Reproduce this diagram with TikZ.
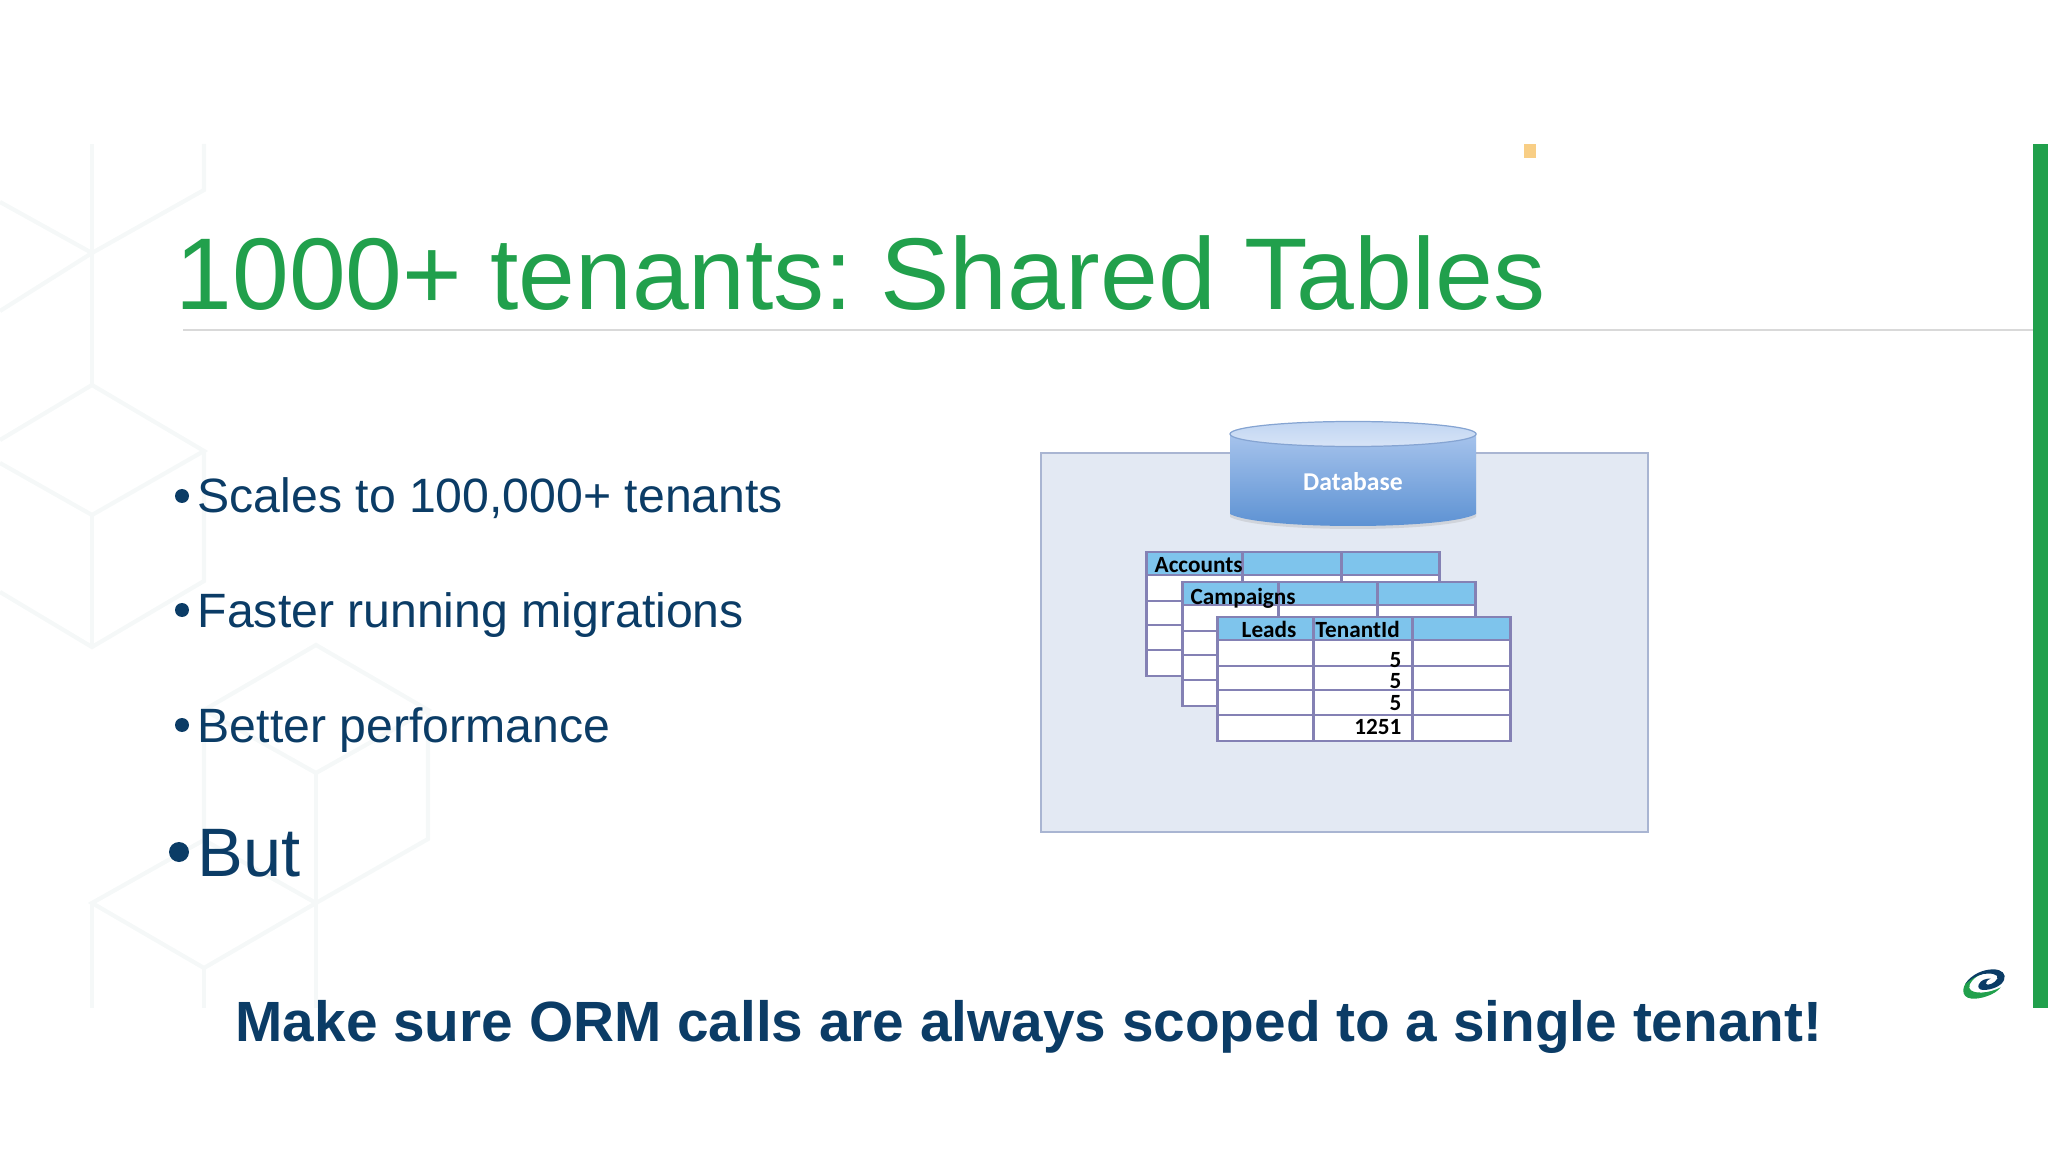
\documentclass[tikz,border=0pt]{standalone}
\usepackage{graphicx}
\usepackage{fontspec}
\setmainfont{Liberation Sans}
\newfontfamily\cellfont{Carlito}
\definecolor{slidegreen}{HTML}{21A04C}
\definecolor{slidenavy}{HTML}{0B3C66}
\definecolor{hexline}{HTML}{F5F8F8}
\definecolor{panelfill}{HTML}{E3E9F3}
\definecolor{paneledge}{HTML}{A9B5D2}
\definecolor{headfill}{HTML}{7EC4EC}
\definecolor{gridedge}{HTML}{8481B4}
\definecolor{dbtop}{HTML}{A6C3EC}
\definecolor{dbbottom}{HTML}{5A90D2}
\definecolor{marksquare}{HTML}{F8CE85}
\tikzset{
	hex/.style={draw=hexline, line width=1.2pt},
	bullettext/.style={anchor=base west, inner sep=0pt, text=slidenavy, font=\fontsize{13.7}{13.7}\selectfont},
	celltext/.style={inner sep=0pt, text=black, font=\cellfont\bfseries\fontsize{6.6}{6.6}\selectfont},
	gridline/.style={draw=gridedge, line width=0.85pt},
}
\begin{document}
\begin{tikzpicture}[x=0.01cm, y=-0.01cm]
	\useasboundingbox (0,0) rectangle (2048,1152);

	\draw[hex] (92,144) -- (92,385);
	\draw[hex] (204,144) -- (204,190) -- (92,253) -- (0,202);
	\draw[hex] (92,253) -- (0,311);
	\draw[hex] (0,440) -- (92,385) -- (204,451) -- (92,515) -- (0,463);
	\draw[hex] (204,451) -- (204,581) -- (92,647) -- (0,592);
	\draw[hex] (92,515) -- (92,647);
	\draw[hex] (204,710) -- (316,645) -- (428,710) -- (316,773) -- cycle;
	\draw[hex] (428,710) -- (428,839) -- (316,903) -- (204,840) -- (204,710);
	\draw[hex] (316,773) -- (316,1008);
	\draw[hex] (204,840) -- (92,903) -- (204,968) -- (316,903);
	\draw[hex] (92,903) -- (92,1008);
	\draw[hex] (204,968) -- (204,1008);

	\fill[slidegreen] (2033,144) rectangle (2048,1008);
	\fill[marksquare] (1524,144) rectangle (1536,158);
	\draw[black!15, line width=0.7pt] (183,330) -- (2033,330);

	\node[anchor=base west, inner sep=0pt, text=slidegreen, font=\fontsize{29}{29}\selectfont] (title) at (175,310) {1000+ tenants:\hspace{-3pt} \scalebox{1.02}[1]{Shared Tables}};

	\foreach \i/\y/\t in {a/513/{Scales to 100,000+ tenants}, b/627/{Faster running migrations}, c/742/{Better performance}}{
		\fill[slidenavy] (182,\y-17) circle (7);
		\node[bullettext] (item\i) at (197,\y) {\t};
	}
	\fill[slidenavy] (179,852) circle (10);
	\node[bullettext, font=\fontsize{19.5}{19.5}\selectfont] (itemd) at (197,876) {But};
	\node[anchor=base west, inner sep=0pt, text=slidenavy, font=\bfseries\fontsize{16.14}{16.14}\selectfont] (scoped) at (235,1041) {Make sure ORM calls are always scoped to a single tenant!};

	\draw[draw=paneledge, fill=panelfill, line width=0.45pt] (1041,453) rectangle (1648,832);

	\fill[black!35, opacity=.3] (1230,437) -- (1230,517) .. controls (1260,533) and (1446,533) .. (1476,517) -- (1476,437) -- cycle;
	\shade[top color=dbtop, bottom color=dbbottom] (1230,434) -- (1230,514) .. controls (1260,530) and (1446,530) .. (1476,514) -- (1476,434) -- cycle;
	\draw[draw=dbbottom!45!paneledge, top color=white!30!dbtop, bottom color=white!55!dbtop, line width=0.35pt] (1353,434) ellipse (1.23cm and 0.125cm);
	\node[celltext, text=white, anchor=base, font=\cellfont\bfseries\fontsize{7.3}{7.3}\selectfont] (database) at (1353,491) {Database};

	\foreach \x/\y in {1146/552, 1182/582, 1217/617}{
		\begin{scope}[shift={(\x,\y)}]
			\fill[white] (0,0) rectangle (293,124);
			\fill[headfill] (0,0) rectangle (293,23);
			\foreach \r in {23, 49, 73, 98}{
				\draw[gridline] (0,\r) -- (293,\r);
			}
			\draw[gridline] (96,0) -- (96,124);
			\draw[gridline] (195,0) -- (195,124);
			\draw[gridline] (0,0) rectangle (293,124);
		\end{scope}
	}

	\node[celltext, anchor=base west] (accounts) at (1154,573) {Accounts};
	\node[celltext, anchor=base west] (campaigns) at (1190,604) {Campaigns};
	\node[celltext, anchor=base west] (leads) at (1241,637) {Leads};
	\node[celltext, anchor=base west] (tenantid) at (1315,637) {TenantId};
	\foreach \n/\y/\t in {p/667/5, q/688/5, r/710/5, s/734/1251}{
		\node[celltext, anchor=base east] (val\n) at (1402,\y) {\t};
	}

	\begin{scope}[shift={(1900,900)}, scale=1/3]
		\fill[slidegreen] (190,268) .. controls (195,240) and (220,225) .. (245,222) .. controls (222,232) and (205,250) .. (208,264) .. controls (215,285) and (270,280) .. (302,262) .. controls (285,285) and (240,298) .. (215,296) .. controls (198,294) and (188,285) .. (190,268) -- cycle;
		\fill[slidenavy] (196,252) .. controls (215,222) and (250,208) .. (280,208) .. controls (305,208) and (320,222) .. (312,240) .. controls (305,258) and (275,270) .. (250,270) .. controls (238,270) and (232,262) .. (236,254) .. controls (240,242) and (258,234) .. (272,236) .. controls (262,240) and (256,246) .. (258,252) .. controls (262,258) and (285,250) .. (292,236) .. controls (298,222) and (270,218) .. (250,222) .. controls (228,227) and (208,240) .. (196,252) -- cycle;
	\end{scope}
\end{tikzpicture}
\end{document}
